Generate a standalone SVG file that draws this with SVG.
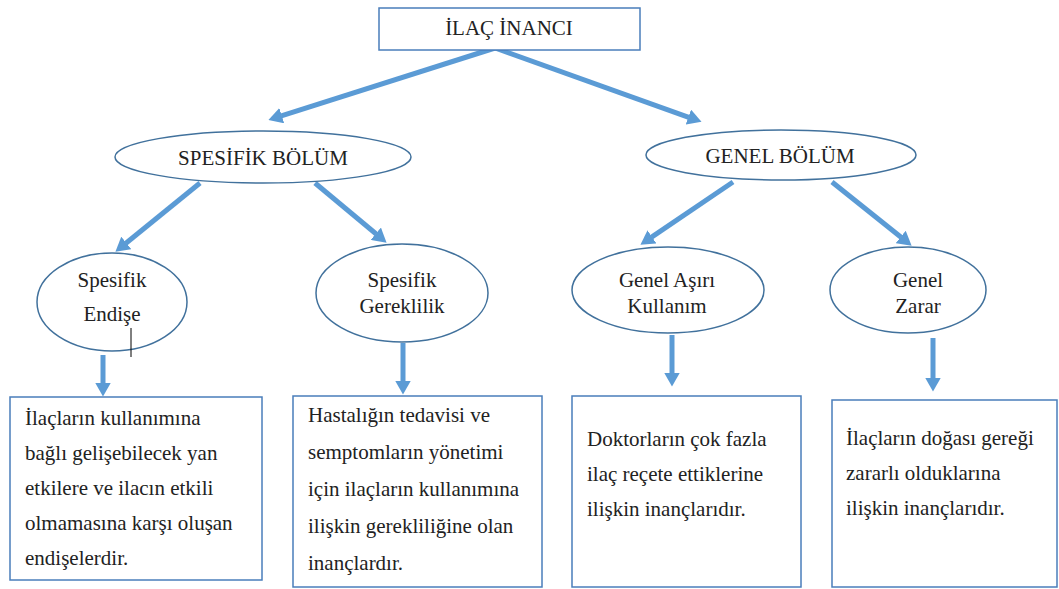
<svg xmlns="http://www.w3.org/2000/svg" width="1059" height="589" viewBox="0 0 1059 589">
<style>
  .box { fill: #fff; stroke: #4A7EBB; stroke-width: 1.5; }
  .ell { fill: #fff; stroke: #41719C; stroke-width: 1.5; }
  .t { font-family: "Liberation Serif", "Times New Roman", serif; font-size: 21px; fill: #222; }
  .c { text-anchor: middle; }
  .arr { stroke: #5B9BD5; stroke-width: 5; fill: none; marker-end: url(#ah); }
</style>
<defs>
  <marker id="ah" markerUnits="userSpaceOnUse" viewBox="0 0 14 16" markerWidth="14" markerHeight="16" refX="0.5" refY="8" orient="auto">
    <path d="M0,0 L14,8 L0,16 z" fill="#5B9BD5"/>
  </marker>
</defs>
<rect width="1059" height="589" fill="#fff"/>

<g id="connectors">
  <line class="arr" x1="495" y1="48" x2="281.3" y2="115.8"/>
  <line class="arr" x1="495" y1="48" x2="688.8" y2="117.3"/>
  <line class="arr" x1="200" y1="183" x2="125.9" y2="243.2"/>
  <line class="arr" x1="315" y1="183" x2="376.2" y2="234"/>
  <line class="arr" x1="733" y1="182" x2="651.6" y2="237.1"/>
  <line class="arr" x1="832" y1="182" x2="901.1" y2="237.3"/>
  <line class="arr" x1="103" y1="355" x2="103" y2="383"/>
  <line class="arr" x1="403" y1="343" x2="403" y2="381"/>
  <line class="arr" x1="672" y1="335" x2="672" y2="373"/>
  <line class="arr" x1="933" y1="338" x2="933" y2="378"/>
</g>

<g id="ilac-inanci">
  <rect class="box" x="379" y="8" width="261" height="42"/>
  <text class="t c" x="509" y="35">İLAÇ İNANCI</text>
</g>

<g id="spesifik-bolum">
  <ellipse class="ell" cx="263" cy="157" rx="148" ry="26"/>
  <text class="t c" x="263" y="165">SPESİFİK BÖLÜM</text>
</g>

<g id="genel-bolum">
  <ellipse class="ell" cx="781" cy="155" rx="135" ry="25"/>
  <text class="t c" x="780" y="163">GENEL BÖLÜM</text>
</g>

<g id="spesifik-endise">
  <ellipse class="ell" cx="112" cy="302" rx="75" ry="49"/>
  <text class="t c" x="112" y="287">Spesifik</text>
  <text class="t c" x="112" y="321">Endişe</text>
  <line x1="131" y1="328" x2="131" y2="357" stroke="#000" stroke-width="1"/>
</g>

<g id="spesifik-gereklilik">
  <ellipse class="ell" cx="402" cy="293" rx="86" ry="49"/>
  <text class="t c" x="402" y="287">Spesifik</text>
  <text class="t c" x="402" y="313">Gereklilik</text>
</g>

<g id="genel-asiri-kullanim">
  <ellipse class="ell" cx="668" cy="290" rx="96" ry="43"/>
  <text class="t c" x="667" y="287">Genel Aşırı</text>
  <text class="t c" x="667" y="313">Kullanım</text>
</g>

<g id="genel-zarar">
  <ellipse class="ell" cx="908" cy="290" rx="78" ry="43"/>
  <text class="t c" x="918" y="287">Genel</text>
  <text class="t c" x="918" y="313">Zarar</text>
</g>

<g id="endise-aciklama">
  <rect class="box" x="10" y="397" width="252" height="183"/>
  <text class="t" x="25" y="425">İlaçların kullanımına</text>
  <text class="t" x="25" y="460">bağlı gelişebilecek yan</text>
  <text class="t" x="25" y="495">etkilere ve ilacın etkili</text>
  <text class="t" x="25" y="530">olmamasına karşı oluşan</text>
  <text class="t" x="25" y="565">endişelerdir.</text>
</g>

<g id="gereklilik-aciklama">
  <rect class="box" x="293" y="396" width="249" height="191"/>
  <text class="t" x="308" y="422">Hastalığın tedavisi ve</text>
  <text class="t" x="308" y="459">semptomların yönetimi</text>
  <text class="t" x="308" y="496">için ilaçların kullanımına</text>
  <text class="t" x="308" y="533">ilişkin gerekliliğine olan</text>
  <text class="t" x="308" y="570">inançlardır.</text>
</g>

<g id="asiri-kullanim-aciklama">
  <rect class="box" x="572" y="396" width="229" height="191"/>
  <text class="t" x="587" y="446">Doktorların çok fazla</text>
  <text class="t" x="587" y="481">ilaç reçete ettiklerine</text>
  <text class="t" x="587" y="516">ilişkin inançlarıdır.</text>
</g>

<g id="zarar-aciklama">
  <rect class="box" x="832" y="400" width="225" height="187"/>
  <text class="t" x="846" y="445">İlaçların doğası gereği</text>
  <text class="t" x="846" y="480">zararlı olduklarına</text>
  <text class="t" x="846" y="515">ilişkin inançlarıdır.</text>
</g>
</svg>
